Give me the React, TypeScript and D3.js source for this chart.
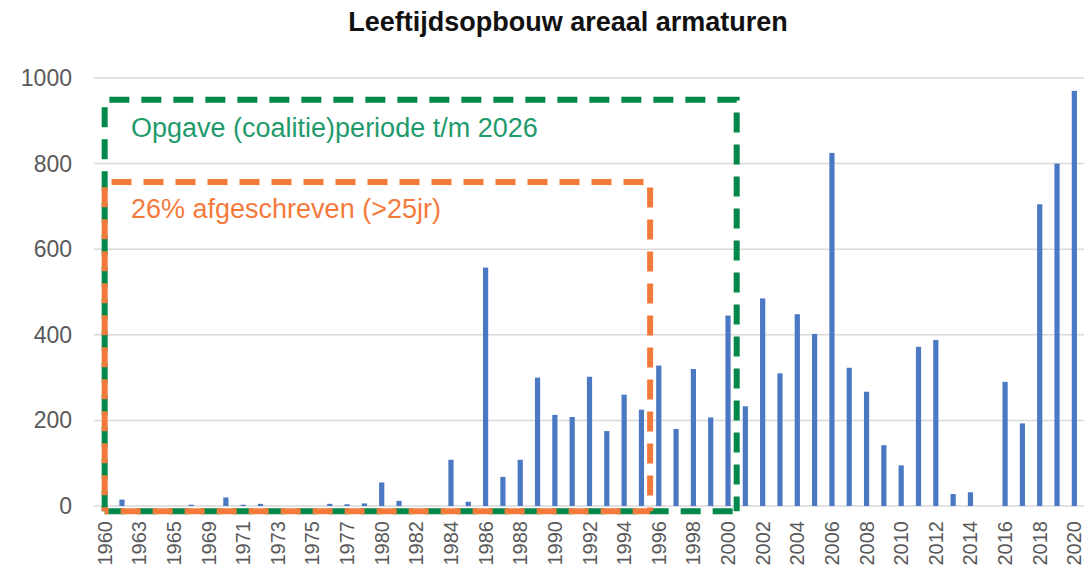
import React from 'react'
import * as d3 from 'd3'

// years as they appear on the category axis (not every year is present before 1984)
const years = [
  '1960', '1962', '1963', '1964', '1965', '1967', '1969', '1970', '1971', '1972',
  '1973', '1974', '1975', '1976', '1977', '1979', '1980', '1981', '1982', '1983',
  '1984', '1985', '1986', '1987', '1988', '1989', '1990', '1991', '1992', '1993',
  '1994', '1995', '1996', '1997', '1998', '1999', '2000', '2001', '2002', '2003',
  '2004', '2005', '2006', '2007', '2008', '2009', '2010', '2011', '2012', '2013',
  '2014', '2015', '2016', '2017', '2018', '2019', '2020',
]

// number of armaturen per year of placement
const counts = [
  0, 15, 0, 0, 0, 3, 0, 20, 3, 5,
  0, 0, 0, 5, 4, 6, 55, 12, 0, 0,
  108, 10, 557, 68, 108, 300, 213, 208, 302, 175,
  260, 225, 328, 180, 320, 207, 445, 233, 485, 310,
  448, 402, 825, 323, 267, 142, 95, 372, 388, 28,
  32, 0, 290, 193, 705, 800, 970,
]

const yTicks = [0, 200, 400, 600, 800, 1000]

const title = 'Leeftijdsopbouw areaal armaturen'
const greenLabel = 'Opgave (coalitie)periode t/m 2026'
const orangeLabel = '26% afgeschreven (>25jr)'

export default function App() {
  const width = 1084,
    height = 569

  const left = 96,
    right = 1083,
    top = 78,
    bottom = 506

  const font = '"Liberation Sans", Arial, sans-serif'

  const x = d3.scaleBand().domain(years).range([left, right]).paddingInner(0.7).paddingOuter(0.35)
  const y = d3.scaleLinear().domain([0, 1000]).range([bottom, top])

  const step = x.step()
  const center = (yr: string) => (x(yr) as number) + x.bandwidth() / 2
  // boundary between a year and the next one
  const edgeAfter = (yr: string) => center(yr) + step / 2

  // annotation boxes (green: coalition period, orange: written off)
  const boxLeft = center('1960')
  const boxBottom = y(-12)
  const green = { x2: edgeAfter('2000'), y1: y(949) }
  const orange = { x2: edgeAfter('1995'), y1: y(757) }

  // left, top and right sides start from the bottom-left corner,
  // the bottom side is drawn on its own from the same corner so both boxes share the dash phase
  const sides = (x2: number, y1: number) =>
    `M${boxLeft},${boxBottom} L${boxLeft},${y1} L${x2},${y1} L${x2},${boxBottom}`
  const base = (x2: number) => `M${boxLeft},${boxBottom} L${x2},${boxBottom}`

  const dash = '20 12'

  return (
    <svg
      width={width}
      height={height}
      style={{ position: 'absolute', left: 0, top: 0, background: '#fff' }}
    >
      <text
        x={568}
        y={31}
        textAnchor="middle"
        fontFamily={font}
        fontWeight="bold"
        fontSize={27}
        fill="#111"
      >
        {title}
      </text>

      {/* grid lines and y labels */}
      {yTicks.map(t => (
        <g key={t}>
          <line x1={94} x2={width} y1={y(t)} y2={y(t)} stroke="#d9d9d9" strokeWidth={1.5} />
          <text
            x={72}
            y={y(t)}
            dy="0.35em"
            textAnchor="end"
            fontFamily={font}
            fontSize={23}
            fill="#595959"
          >
            {t}
          </text>
        </g>
      ))}

      {/* bars */}
      {years.map((yr, i) => (
        <rect
          key={yr}
          x={x(yr)}
          y={y(counts[i])}
          width={x.bandwidth()}
          height={bottom - y(counts[i])}
          fill="#4a78c2"
        />
      ))}

      {/* x labels, every other category */}
      {years.map((yr, i) =>
        i % 2 === 0 ? (
          <text
            key={yr}
            transform={`translate(${center(yr)}, ${bottom + 15}) rotate(-90)`}
            dy="0.35em"
            textAnchor="end"
            fontFamily={font}
            fontSize={20}
            fill="#595959"
          >
            {yr}
          </text>
        ) : null
      )}

      {/* annotation boxes */}
      <g fill="none" strokeWidth={6} strokeDasharray={dash}>
        <path d={sides(green.x2, green.y1)} stroke="#00884a" />
        <path d={base(green.x2)} stroke="#00884a" />
        <path d={sides(orange.x2, orange.y1)} stroke="#f47a3c" strokeDashoffset={16} />
        <path d={base(orange.x2)} stroke="#f47a3c" strokeDashoffset={16} />
      </g>
      <text x={131} y={137} fontFamily={font} fontSize={27} fill="#1f9a6c">
        {greenLabel}
      </text>
      <text x={131} y={218} fontFamily={font} fontSize={27} fill="#f47a3c">
        {orangeLabel}
      </text>
    </svg>
  )
}
